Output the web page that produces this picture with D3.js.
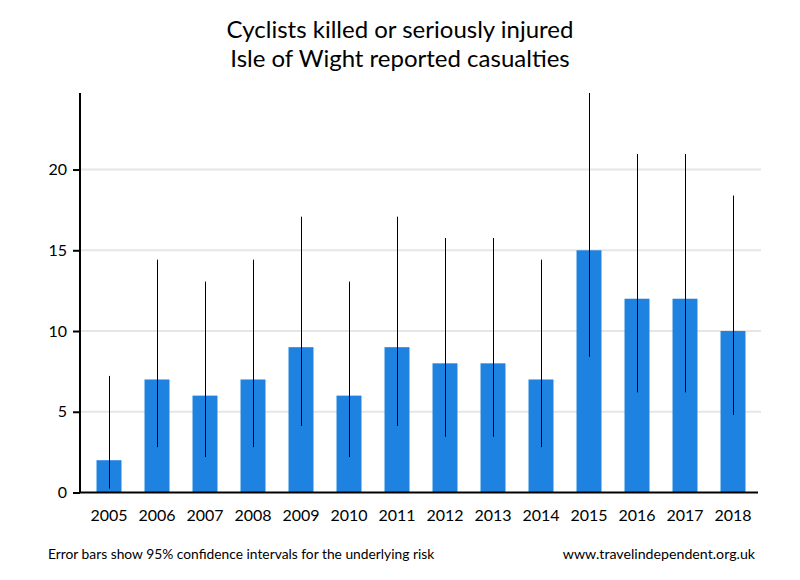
<!DOCTYPE html>
<html><head><meta charset="utf-8">
<script src="https://cdn.jsdelivr.net/npm/d3@7"></script>
<style>body{margin:0;background:#fff}svg{display:block}text{font-family:Lato,"Open Sans",sans-serif}</style>
</head><body>
<script>
const years = ["2005","2006","2007","2008","2009","2010","2011","2012","2013","2014","2015","2016","2017","2018"];
const casualties = [2,7,6,7,9,6,9,8,8,7,15,12,12,10];
const lower95 = [0.24,2.81,2.20,2.81,4.12,2.20,4.12,3.45,3.45,2.81,8.40,6.20,6.20,4.80];
const upper95 = [7.22,14.42,13.06,14.42,17.08,13.06,17.08,15.76,15.76,14.42,24.74,20.96,20.96,18.39];
const yTicks = [0,5,10,15,20];
const titleLines = ["Cyclists killed or seriously injured","Isle of Wight reported casualties"];

const W=800,H=580;
const svg=d3.select("body").append("svg").attr("width",W).attr("height",H);
const x=d3.scaleBand().domain(years).range([85,757]).paddingInner(0.48).paddingOuter(0.24);
const y=d3.scaleLinear().domain([0,d3.max(upper95)]).range([492.5,93]);

// grid
svg.append("g").selectAll("line").data(yTicks.filter(t=>t>0)).join("line")
  .attr("x1",80).attr("x2",761).attr("y1",d=>y(d)).attr("y2",d=>y(d))
  .attr("stroke","#e6e6e6").attr("stroke-width",2);

// bars
svg.append("g").selectAll("rect").data(years).join("rect")
  .attr("x",d=>x(d)).attr("width",x.bandwidth())
  .attr("y",(d,i)=>y(casualties[i])).attr("height",(d,i)=>y(0)-y(casualties[i]))
  .attr("fill","#1e83e0");

// error bars
svg.append("g").selectAll("line").data(years).join("line")
  .attr("x1",d=>Math.round(x(d)+x.bandwidth()/2)+0.5).attr("x2",d=>Math.round(x(d)+x.bandwidth()/2)+0.5)
  .attr("y1",(d,i)=>y(lower95[i])).attr("y2",(d,i)=>y(upper95[i]))
  .attr("stroke","#000").attr("stroke-width",1);

// y axis
const ya=svg.append("g").attr("transform","translate(80,0)")
  .call(d3.axisLeft(y).tickValues(yTicks).tickSize(7).tickPadding(6).tickFormat(d3.format("d")));
ya.select(".domain").attr("stroke-width",2).attr("d",`M0,${y(0)}V${y.range()[1]}`);
ya.selectAll(".tick line").attr("stroke-width",2);
ya.selectAll("text").attr("font-size",16).attr("fill","#000").style("font-family","Lato");

// x axis
const xa=svg.append("g").attr("transform",`translate(0,${y(0)})`)
  .call(d3.axisBottom(x).tickSize(0).tickPadding(17));
xa.select(".domain").attr("stroke-width",2).attr("d","M79,0H758");
xa.selectAll("text").attr("font-size",16).attr("fill","#000").style("font-family","Lato");

// title
svg.append("g").selectAll("text").data(titleLines).join("text")
  .attr("x",400).attr("y",(d,i)=>38+i*29).attr("text-anchor","middle")
  .attr("font-size",24).attr("fill","#000").text(d=>d);

// footer
svg.append("text").attr("x",48).attr("y",559).attr("font-size",13.8).attr("fill","#000")
  .text("Error bars show 95% confidence intervals for the underlying risk");
svg.append("text").attr("x",755).attr("y",559).attr("text-anchor","end").attr("font-size",14.2).attr("fill","#000")
  .text("www.travelindependent.org.uk");
</script>
</body></html>
